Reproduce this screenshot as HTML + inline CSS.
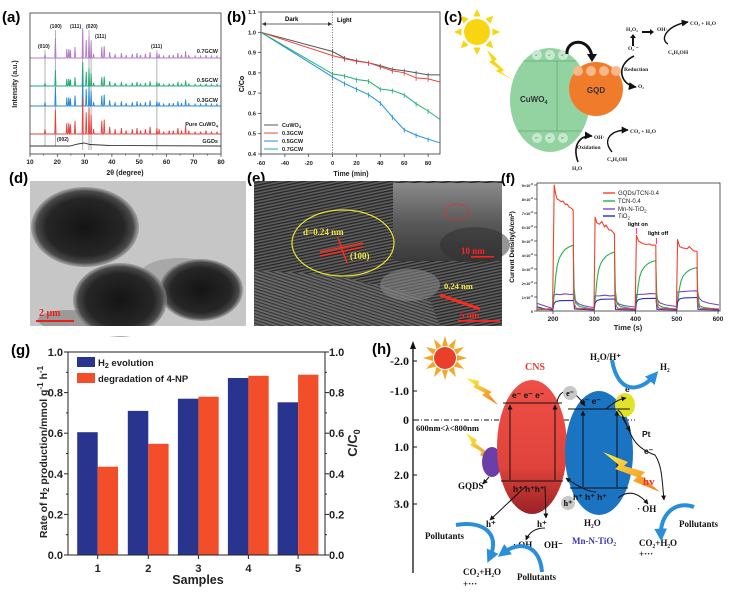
<!DOCTYPE html>
<html><head><meta charset="utf-8">
<style>
html,body{margin:0;padding:0;background:#fff;}
svg{display:block;}
text{font-family:"Liberation Sans",sans-serif;}
.sf{font-family:"Liberation Serif",serif;}
</style></head><body>
<svg width="737" height="595" viewBox="0 0 737 595" xmlns="http://www.w3.org/2000/svg" xmlns:xlink="http://www.w3.org/1999/xlink">
<defs>
<path id="xrd" vector-effect="non-scaling-stroke" fill="none" stroke-width="0.9" d="M30,0 L44.4,0 L45,-4 L45.6,0 L54.8,0 L55.4,-20 L56,0 L66.2,0 L66.8,-9 L67.4,0 L68.2,0 L68.8,-9 L69.4,0 L69.8,0 L70.4,-8 L71,0 L74.4,0 L75,-11 L75.6,0 L82.1,0 L82.7,-30 L83.3,0 L85.6,0 L86.2,-18 L86.8,0 L88.4,0 L89,-22 L89.6,0 L90.5,0 L91.1,-16 L91.7,0 L93,0 L93.6,-4 L94.2,0 L101.2,0 L101.8,-11 L102.4,0 L103.6,0 L104.2,-12 L104.8,0 L109.1,0 L109.7,-6 L110.3,0 L114.5,0 L115.1,-4 L115.7,0 L120.8,0 L121.4,-5 L122,0 L125.5,0 L126.1,-3 L126.7,0 L131.7,0 L132.3,-4 L132.9,0 L136.4,0 L137,-5 L137.6,0 L139.9,0 L140.5,-3 L141.1,0 L144.8,0 L145.4,-4 L146,0 L149.5,0 L150.1,-6 L150.7,0 L156.3,0 L156.9,-5 L157.5,0 L158.5,0 L159.1,-4 L159.7,0 L163.1,0 L163.7,-2 L164.3,0 L168.6,0 L169.2,-3 L169.8,0 L172.7,0 L173.3,-3 L173.9,0 L177.3,0 L177.9,-5 L178.5,0 L180.9,0 L181.5,-3 L182.1,0 L185,0 L185.6,-7 L186.2,0 L188.2,0 L188.8,-3 L189.4,0 L194.5,0 L195.1,-2 L195.7,0 L200,0 L200.6,-2 L201.2,0 L205.4,0 L206,-3 L206.6,0 L210.9,0 L211.5,-2 L212.1,0 L216.4,0 L217,-2 L217.6,0 L221,0"/>
<radialGradient id="pd" cx="50%" cy="50%" r="50%">
<stop offset="0" stop-color="#141414"/><stop offset="0.72" stop-color="#262626"/><stop offset="0.9" stop-color="#4a4a4a"/><stop offset="1" stop-color="#888" stop-opacity="0.6"/>
</radialGradient>
<pattern id="lat" width="3" height="3" patternUnits="userSpaceOnUse" patternTransform="rotate(-12)">
<rect width="3" height="3" fill="#5e5e5e"/><rect width="3" height="1.3" fill="#262626"/>
</pattern>
<pattern id="lat2" width="3" height="3" patternUnits="userSpaceOnUse" patternTransform="rotate(18)">
<rect width="3" height="3" fill="#6a6a6a"/><rect width="3" height="1.2" fill="#353535"/>
</pattern>
<linearGradient id="ins" x1="0" y1="0" x2="0" y2="1">
<stop offset="0" stop-color="#8a8a8a"/><stop offset="0.5" stop-color="#5a5a5a"/><stop offset="1" stop-color="#3a3a3a"/>
</linearGradient>
<linearGradient id="cns" x1="0" y1="0" x2="0" y2="1">
<stop offset="0" stop-color="#ee5048"/><stop offset="0.65" stop-color="#e0433b"/><stop offset="1" stop-color="#9a2226"/>
</linearGradient>
<linearGradient id="bolt" x1="0" y1="0" x2="1" y2="1">
<stop offset="0" stop-color="#fff040"/><stop offset="1" stop-color="#f07a20"/>
</linearGradient>
<marker id="ah" viewBox="0 0 10 10" refX="9" refY="5" markerWidth="5" markerHeight="5" orient="auto"><path d="M0,0 L10,5 L0,10 z" fill="#111"/></marker>
<marker id="ahb" viewBox="0 0 10 10" refX="5" refY="5" markerWidth="3.2" markerHeight="3.2" orient="auto"><path d="M0,0 L10,5 L0,10 z" fill="#2a8fd8"/></marker>
</defs>

<!-- ========== (a) ========== -->
<text x="2" y="22" font-size="15" font-weight="bold">(a)</text>
<g stroke="#aaa" stroke-width="0.9">
<line x1="45" y1="50" x2="45" y2="146"/>
<line x1="55.4" y1="30" x2="55.4" y2="146"/>
<line x1="82.7" y1="30" x2="82.7" y2="150"/>
<line x1="89" y1="30" x2="89" y2="150"/>
<line x1="91.1" y1="40" x2="91.1" y2="150"/>
<line x1="156.9" y1="50" x2="156.9" y2="150"/>
</g>
<use xlink:href="#xrd" transform="translate(0,58)" stroke="#b47ac8"/>
<use xlink:href="#xrd" transform="translate(0,86) scale(1,0.8)" stroke="#22aa70"/>
<use xlink:href="#xrd" transform="translate(0,106) scale(1,0.95)" stroke="#2a88d8"/>
<use xlink:href="#xrd" transform="translate(0,134) scale(1,1.2)" stroke="#e8403a"/>
<path d="M30,146 L70,146 L78,144 L84,143 L90,144.5 L110,145.5 L221,146" fill="none" stroke="#333" stroke-width="0.9"/>
<rect x="30" y="13" width="191" height="141" fill="none" stroke="#333" stroke-width="0.8"/>
<g stroke="#333" stroke-width="0.7">
<line x1="30" y1="154" x2="30" y2="157"/><line x1="57.3" y1="154" x2="57.3" y2="157"/><line x1="84.6" y1="154" x2="84.6" y2="157"/><line x1="111.9" y1="154" x2="111.9" y2="157"/><line x1="139.2" y1="154" x2="139.2" y2="157"/><line x1="166.5" y1="154" x2="166.5" y2="157"/><line x1="193.7" y1="154" x2="193.7" y2="157"/><line x1="221" y1="154" x2="221" y2="157"/>
<line x1="43.6" y1="154" x2="43.6" y2="155.5"/><line x1="70.9" y1="154" x2="70.9" y2="155.5"/><line x1="98.2" y1="154" x2="98.2" y2="155.5"/><line x1="125.5" y1="154" x2="125.5" y2="155.5"/><line x1="152.8" y1="154" x2="152.8" y2="155.5"/><line x1="180.1" y1="154" x2="180.1" y2="155.5"/><line x1="207.4" y1="154" x2="207.4" y2="155.5"/>
</g>
<g font-size="6.5" font-weight="bold" text-anchor="middle" fill="#222">
<text x="30" y="164">10</text><text x="57.3" y="164">20</text><text x="84.6" y="164">30</text><text x="111.9" y="164">40</text><text x="139.2" y="164">50</text><text x="166.5" y="164">60</text><text x="193.7" y="164">70</text><text x="221" y="164">80</text>
<text x="125" y="175" font-size="7">2θ (degree)</text>
</g>
<text transform="translate(17,84) rotate(-90)" font-size="7" font-weight="bold" text-anchor="middle" fill="#222">Intensity (a.u.)</text>
<g font-size="5" font-weight="bold" fill="#222">
<text x="38" y="48">(010)</text><text x="50" y="28">(100)</text><text x="70" y="28">(111)</text><text x="86" y="28">(020)</text><text x="95" y="38">(111)</text><text x="151" y="48">(111)</text><text x="57" y="141">(002)</text>
</g>
<g font-size="5.5" font-weight="bold" fill="#222" text-anchor="end">
<text x="218" y="53">0.7GCW</text><text x="218" y="82">0.5GCW</text><text x="218" y="102">0.3GCW</text><text x="218" y="126">Pure CuWO<tspan font-size="4" dy="1.5">4</tspan></text><text x="218" y="143">GGDs</text>
</g>

<!-- ========== (b) ========== -->
<text x="227" y="22" font-size="15" font-weight="bold">(b)</text>
<rect x="261" y="12" width="179" height="142" fill="none" stroke="#333" stroke-width="0.8"/>
<line x1="332.6" y1="12" x2="332.6" y2="154" stroke="#333" stroke-width="0.7" stroke-dasharray="1,1.5"/>
<line x1="262" y1="24" x2="332" y2="24" stroke="#333" stroke-width="0.7"/>
<path d="M262,24 l4,-2 l0,4 z M332,24 l-4,-2 l0,4 z" fill="#333"/>
<text x="285" y="21" font-size="6" font-weight="bold">Dark</text>
<text x="337" y="22" font-size="6" font-weight="bold">Light</text>
<g stroke="#333" stroke-width="0.7">
<line x1="258" y1="12" x2="261" y2="12"/><line x1="258" y1="32.3" x2="261" y2="32.3"/><line x1="258" y1="52.6" x2="261" y2="52.6"/><line x1="258" y1="72.9" x2="261" y2="72.9"/><line x1="258" y1="93.1" x2="261" y2="93.1"/><line x1="258" y1="113.4" x2="261" y2="113.4"/><line x1="258" y1="133.7" x2="261" y2="133.7"/><line x1="258" y1="154" x2="261" y2="154"/>
<line x1="261" y1="154" x2="261" y2="157"/><line x1="284.9" y1="154" x2="284.9" y2="157"/><line x1="308.7" y1="154" x2="308.7" y2="157"/><line x1="332.6" y1="154" x2="332.6" y2="157"/><line x1="356.5" y1="154" x2="356.5" y2="157"/><line x1="380.3" y1="154" x2="380.3" y2="157"/><line x1="404.2" y1="154" x2="404.2" y2="157"/><line x1="428.1" y1="154" x2="428.1" y2="157"/>
</g>
<g font-size="5.8" font-weight="bold" text-anchor="end" fill="#222">
<text x="256" y="14">1.1</text><text x="256" y="34.3">1.0</text><text x="256" y="54.6">0.9</text><text x="256" y="74.9">0.8</text><text x="256" y="95.1">0.7</text><text x="256" y="115.4">0.6</text><text x="256" y="135.7">0.5</text><text x="256" y="156">0.4</text>
</g>
<g font-size="5.8" font-weight="bold" text-anchor="middle" fill="#222">
<text x="261" y="165">-60</text><text x="284.9" y="165">-40</text><text x="308.7" y="165">-20</text><text x="332.6" y="165">0</text><text x="356.5" y="165">20</text><text x="380.3" y="165">40</text><text x="404.2" y="165">60</text><text x="428.1" y="165">80</text>
<text x="351" y="176" font-size="7">Time (min)</text>
</g>
<text transform="translate(244,84) rotate(-90)" font-size="7" font-weight="bold" text-anchor="middle">C/Co</text>
<g fill="none" stroke-width="1">
<polyline stroke="#555" points="261,32.3 332.6,51.5 344.5,58 356.5,60.7 368.4,62.7 380.3,65.7 392.3,69.2 404.2,70.8 416.1,72.8 428.1,74.9 440,74.9"/>
<polyline stroke="#e8473f" points="261,32.3 332.6,55.6 344.5,58.6 356.5,61.3 368.4,62.7 380.3,66.8 392.3,70.8 404.2,72.8 416.1,77.9 428.1,78.9 440,82"/>
<polyline stroke="#1f8fe0" points="261,32.3 332.6,76.9 344.5,83.4 356.5,89.1 368.4,94.6 380.3,102.9 392.3,116.9 404.2,129.7 416.1,135.1 428.1,139.2 440,142.8"/>
<polyline stroke="#22b070" points="261,32.3 332.6,73.9 344.5,75.9 356.5,79.5 368.4,81 380.3,89.1 392.3,90.5 404.2,94.8 416.1,103.7 428.1,111 440,119.5"/>
</g>
<g stroke-width="0.8">
<path stroke="#555" d="M332.6,49v5M344.5,56v5M356.5,58.7v5M368.4,60.7v5M380.3,63.7v5M392.3,67.2v5M404.2,68.8v5M416.1,70.8v5M428.1,72.9v5"/>
<path stroke="#e8473f" d="M332.6,53.6v5M344.5,56.6v5M356.5,59.3v5M368.4,60.7v5M380.3,64.8v5M392.3,68.8v5M404.2,70.8v5M416.1,75.9v5M428.1,76.9v5"/>
<path stroke="#1f8fe0" d="M332.6,74.9v5M344.5,81.4v5M356.5,87.1v5M368.4,92.6v5M380.3,100.9v5M392.3,114.9v5M404.2,127.7v5M416.1,133.1v5M428.1,137.2v5"/>
<path stroke="#22b070" d="M332.6,71.9v5M344.5,73.9v5M356.5,77.5v5M368.4,79v5M380.3,87.1v5M392.3,88.5v5M404.2,92.8v5M416.1,101.7v5M428.1,109v5"/>
</g>
<g stroke-width="1">
<line x1="264" y1="125" x2="278" y2="125" stroke="#555"/><line x1="264" y1="133" x2="278" y2="133" stroke="#e8473f"/><line x1="264" y1="141" x2="278" y2="141" stroke="#1f8fe0"/><line x1="264" y1="149" x2="278" y2="149" stroke="#22b070"/>
</g>
<g font-size="5.5" font-weight="bold" fill="#222">
<text x="282" y="127">CuWO<tspan font-size="4" dy="1">4</tspan></text><text x="282" y="135">0.3GCW</text><text x="282" y="143">0.5GCW</text><text x="282" y="151">0.7GCW</text>
</g>

<!-- ========== (c) ========== -->
<text x="444" y="22" font-size="15" font-weight="bold">(c)</text>
<g fill="#f9d511" transform="translate(477,32)">
<circle r="13"/>
<polygon points="15.5,-3.6 23,0 15.5,3.6"/>
<polygon points="15.5,-3.6 23,0 15.5,3.6" transform="rotate(45)"/>
<polygon points="15.5,-3.6 23,0 15.5,3.6" transform="rotate(90)"/>
<polygon points="15.5,-3.6 23,0 15.5,3.6" transform="rotate(135)"/>
<polygon points="15.5,-3.6 23,0 15.5,3.6" transform="rotate(180)"/>
<polygon points="15.5,-3.6 23,0 15.5,3.6" transform="rotate(225)"/>
<polygon points="15.5,-3.6 23,0 15.5,3.6" transform="rotate(270)"/>
<polygon points="15.5,-3.6 23,0 15.5,3.6" transform="rotate(315)"/>
</g>
<polygon fill="#f9d511" points="487,50 497,59 494,61 504,70 501,72 513,80 496,71 499,69 489,62 492,60"/>
<ellipse cx="550" cy="100" rx="40" ry="52" fill="#93d3a2"/>
<g stroke="#5fae72" stroke-width="0.8">
<line x1="523.5" y1="61" x2="576.5" y2="61"/><line x1="518" y1="131" x2="582" y2="131"/><line x1="557" y1="61" x2="557" y2="131"/>
</g>
<g fill="#c6ead0"><circle cx="537" cy="55" r="5"/><circle cx="550" cy="55" r="5"/><circle cx="563" cy="55" r="5"/><circle cx="537" cy="138" r="5"/><circle cx="550" cy="138" r="5"/><circle cx="563" cy="138" r="5"/></g>
<g font-size="3" fill="#444" text-anchor="middle"><text x="537" y="56">e⁻</text><text x="550" y="56">e⁻</text><text x="563" y="56">e⁻</text><text x="537" y="139">h⁺</text><text x="550" y="139">h⁺</text><text x="563" y="139">h⁺</text></g>
<text x="520" y="102" font-size="8" font-weight="bold" fill="#333">CuWO<tspan font-size="5.5" dy="2">4</tspan></text>
<circle cx="596" cy="89" r="27" fill="#f07b2a"/>
<g fill="#f8b88a"><circle cx="578" cy="71" r="5"/><circle cx="591" cy="71" r="5"/><circle cx="604" cy="71" r="5"/><circle cx="616" cy="71" r="5"/></g>
<text x="596" y="93" font-size="8" font-weight="bold" fill="#333" text-anchor="middle">GQD</text>
<path d="M567,54 C566,40 588,36 592,56" fill="none" stroke="#111" stroke-width="3"/>
<path d="M587,54 L597,54 L592,62 z" fill="#111"/>
<g class="sf" font-size="5.5" font-weight="bold" fill="#222">
<text x="626" y="31" class="sf">H₂O₂</text>
<text x="657" y="31" class="sf">OH·</text>
<text x="690" y="25" class="sf">CO₂ + H₂O</text>
<text x="668" y="54" class="sf">C₆H₅OH</text>
<text x="628" y="50" class="sf">O₂˙⁻</text>
<text x="624" y="71" class="sf">Reduction</text>
<text x="638" y="88" class="sf">O₂</text>
<text x="594" y="139" class="sf">OH·</text>
<text x="577" y="149" class="sf">Oxidation</text>
<text x="572" y="170" class="sf">H₂O</text>
<text x="630" y="133" class="sf">CO₂ + H₂O</text>
<text x="607" y="161" class="sf">C₆H₅OH</text>
</g>
<path d="M642,31 h8 v-2 l4,3 l-4,3 v-2 h-8 z" fill="#111"/>
<path d="M632,46 v-8 h-2 l3,-4 l3,4 h-2 v8 z" fill="#111"/>
<path d="M668,44 C660,40 665,26 688,22" fill="none" stroke="#111" stroke-width="1.4" marker-end="url(#ah)"/>
<path d="M634,56 C615,65 620,85 636,87" fill="none" stroke="#111" stroke-width="1.6" marker-end="url(#ah)"/>
<path d="M578,162 C572,145 580,135 592,136" fill="none" stroke="#111" stroke-width="1.6" marker-end="url(#ah)"/>
<path d="M612,152 C602,140 610,130 628,130" fill="none" stroke="#111" stroke-width="1.4" marker-end="url(#ah)"/>

<!-- ========== (d) ========== -->
<text x="9" y="183" font-size="15" font-weight="bold">(d)</text>
<rect x="30" y="181" width="216" height="145" fill="#c6c6c6"/>
<ellipse cx="180" cy="272" rx="38" ry="14" fill="#a8a8a8"/>
<ellipse cx="68" cy="320" rx="30" ry="10" fill="#9a9a9a"/>
<ellipse cx="85" cy="227" rx="54" ry="40" fill="url(#pd)"/>
<ellipse cx="201" cy="290" rx="42" ry="31" fill="url(#pd)"/>
<ellipse cx="120" cy="300" rx="47" ry="37" fill="url(#pd)"/>
<rect x="30" y="326" width="216" height="10" fill="#fff"/>
<text x="39" y="316" font-size="10" font-weight="bold" fill="#e8201a" class="sf">2 μm</text>
<rect x="36" y="320" width="38" height="2" fill="#e8201a"/>

<!-- ========== (e) ========== -->
<text x="247" y="183" font-size="15" font-weight="bold">(e)</text>
<rect x="254" y="181" width="248" height="145" fill="url(#lat)"/>
<path d="M254,270 L330,275 L400,290 L430,300 L440,326 L254,326 z" fill="url(#lat2)"/>
<ellipse cx="410" cy="285" rx="30" ry="16" fill="#8a8a8a" opacity="0.55"/>
<rect x="393" y="183" width="109" height="78" fill="url(#ins)"/>
<ellipse cx="475" cy="245" rx="35" ry="18" fill="#2e2e2e" opacity="0.5"/>
<ellipse cx="457" cy="212" rx="12" ry="8" fill="none" stroke="#ff2020" stroke-width="1" stroke-dasharray="2,1.5"/>
<text x="461" y="254" font-size="9" font-weight="bold" fill="#ff2020" class="sf">10 nm</text>
<rect x="471" y="256" width="23" height="1.6" fill="#ff2020"/>
<ellipse cx="343" cy="243" rx="51" ry="33" fill="none" stroke="#e8e030" stroke-width="1.2"/>
<text x="303" y="235" font-size="9" font-weight="bold" fill="#f0e840" class="sf">d=0.24 nm</text>
<g stroke="#ff2a1a" stroke-width="1.5"><line x1="320" y1="252" x2="363" y2="243"/><line x1="320" y1="256" x2="363" y2="247"/><line x1="338" y1="238" x2="347" y2="263"/></g>
<text x="350" y="259" font-size="9" font-weight="bold" fill="#f0e840" class="sf">(100)</text>
<text x="444" y="289" font-size="8.5" font-weight="bold" fill="#f0e840" class="sf">0.24 nm</text>
<line x1="440" y1="295" x2="480" y2="309" stroke="#ff2a1a" stroke-width="3"/>
<text x="460" y="318" font-size="9" font-weight="bold" fill="#ff2020" class="sf">5 nm</text>
<rect x="458" y="320" width="42" height="1.8" fill="#ff2020"/>

<!-- ========== (f) ========== -->
<text x="501" y="183" font-size="14" font-weight="bold">(f)</text>
<rect x="537" y="183" width="183" height="128" fill="none" stroke="#333" stroke-width="0.8"/>
<g stroke="#333" stroke-width="0.7">
<line x1="534" y1="311" x2="537" y2="311"/><line x1="534" y1="297" x2="537" y2="297"/><line x1="534" y1="283" x2="537" y2="283"/><line x1="534" y1="269" x2="537" y2="269"/><line x1="534" y1="255" x2="537" y2="255"/><line x1="534" y1="241" x2="537" y2="241"/><line x1="534" y1="227" x2="537" y2="227"/><line x1="534" y1="213" x2="537" y2="213"/><line x1="534" y1="199" x2="537" y2="199"/><line x1="534" y1="185" x2="537" y2="185"/>
<line x1="553" y1="311" x2="553" y2="314"/><line x1="594.3" y1="311" x2="594.3" y2="314"/><line x1="635.6" y1="311" x2="635.6" y2="314"/><line x1="676.8" y1="311" x2="676.8" y2="314"/><line x1="718" y1="311" x2="718" y2="314"/>
</g>
<g font-size="3.8" font-weight="bold" text-anchor="end" fill="#222">
<text x="533" y="313">0</text>
<text x="533" y="299">1×10<tspan font-size="3" dy="-2">-6</tspan></text>
<text x="533" y="285">2×10<tspan font-size="3" dy="-2">-6</tspan></text>
<text x="533" y="271">3×10<tspan font-size="3" dy="-2">-6</tspan></text>
<text x="533" y="257">4×10<tspan font-size="3" dy="-2">-6</tspan></text>
<text x="533" y="243">5×10<tspan font-size="3" dy="-2">-6</tspan></text>
<text x="533" y="229">6×10<tspan font-size="3" dy="-2">-6</tspan></text>
<text x="533" y="215">7×10<tspan font-size="3" dy="-2">-6</tspan></text>
<text x="533" y="201">8×10<tspan font-size="3" dy="-2">-6</tspan></text>
<text x="533" y="187">9×10<tspan font-size="3" dy="-2">-6</tspan></text>
</g>
<g font-size="6.5" font-weight="bold" text-anchor="middle" fill="#222">
<text x="553" y="321">200</text><text x="594.3" y="321">300</text><text x="635.6" y="321">400</text><text x="676.8" y="321">500</text><text x="718" y="321">600</text>
<text x="628" y="330" font-size="7.5">Time (s)</text>
</g>
<text transform="translate(514,247) rotate(-90)" font-size="6.5" font-weight="bold" text-anchor="middle">Current Density(A/cm<tspan font-size="4.5" dy="-2">2</tspan><tspan dy="2">)</tspan></text>
<g fill="none" stroke-width="1.1" stroke-linejoin="round">
<polyline stroke="#7b44c4" points="537,303.3 545,306 552.6,308.5 553.6,295.6 556,294.2 560,294.7 565,293.8 570,294.5 573.7,294.2 575,300 578,303.5 583,305.5 590,307 594,307.5 594.8,296 600,295.8 605,295.2 610,295.9 614.9,295.6 616,301 619,304 624,305.5 630,306.5 635.5,307 636.2,294.5 645,294.2 650,293.6 656.2,293.8 657.5,300 660,303 666,305 676.5,306.5 677.2,292 683,291.6 690,291 697.4,290.8 699,298 702,301 708,303 719,305"/>
<polyline stroke="#22b24e" points="537,309.6 553,309.6 554.2,294.5 555.5,278.1 557.1,266.2 559.2,258.4 562.1,253.1 565.4,249.1 569.5,246.6 573.2,245.2 574.1,287.9 575.7,303.2 579.8,306.4 594.3,309.6 595.5,296.3 596.8,281.6 598.4,271 600.5,264 603.4,259.2 606.7,255.7 610.8,253.3 614.5,252.2 615.4,290.4 617,304 621.1,306.6 635.6,309.6 636.8,298.4 638.1,285.8 639.7,276.7 641.8,270.7 644.7,266.6 648,263.6 652.1,261.6 655.8,260.6 656.7,293.4 658.3,305 662.4,307 676.8,309.6 678,300.1 679.3,289.3 680.9,281.5 683,276.3 685.9,272.8 689.2,270.2 693.3,268.5 697,267.6 697.9,295.8 699.5,305.8 703.6,307.4 719,309.6"/>
<polyline stroke="#2430c0" points="537,306.8 545,309 552.6,310 554,303.5 556,301.5 560,300.7 573.7,300.4 574.5,309 594,310 595,303 597,300.5 601,299.3 614.9,299 615.6,309.5 635.6,310 636.3,302.5 638.5,299.5 643,298.6 656.2,298.3 657,309.5 676.8,310 677.5,302 679.5,299 684,297.9 697.4,297.5 698,309.5 719,310"/>
<polyline stroke="#f2402a" points="537,308.9 552.6,308.9 554.2,185 555.5,193.4 557.1,199 559,200 561.3,201.8 563,201 565.4,204.6 567,204 569.5,207.4 571,208 573.2,210.2 573.7,302.6 576.1,308.2 594,308.9 595.1,217.2 596.8,222.8 599.3,224.2 601.8,221.5 604.6,227 606,225 608.8,229.8 611,230 614.5,234 614.9,302.6 617.4,308.2 635.2,308.9 636.4,235.4 638.5,241 641.8,243.1 645.9,244.5 649,244 652.1,245.2 655.8,245.2 656.2,302.6 658.7,308.2 676.4,308.9 677.6,239.6 679.7,246.6 683,248 687.2,248.7 689.2,246.5 693.4,250.8 697.1,251.5 697.4,302.6 699.9,308.2 719,308.9"/>
</g>
<g stroke-width="1.4">
<line x1="603" y1="193" x2="615" y2="193" stroke="#f2402a"/><line x1="603" y1="201" x2="615" y2="201" stroke="#22b24e"/><line x1="603" y1="209" x2="615" y2="209" stroke="#7b44c4"/><line x1="603" y1="216" x2="615" y2="216" stroke="#2430c0"/>
</g>
<g font-size="6" fill="#222">
<text x="618" y="195">GQDs/TCN-0.4</text><text x="618" y="203">TCN-0.4</text><text x="618" y="211">Mn-N-TiO<tspan font-size="4.5" dy="1.5">2</tspan></text><text x="618" y="218">TiO<tspan font-size="4.5" dy="1.5">2</tspan></text>
</g>
<text x="628" y="226" font-size="5.5" font-weight="bold">light on</text>
<text x="648" y="235" font-size="5.5" font-weight="bold">light off</text>
<g stroke="#ff3aa0" stroke-width="1.2"><line x1="636.5" y1="228" x2="636.5" y2="234"/><line x1="656.5" y1="238" x2="656.5" y2="244"/></g>

<!-- ========== (g) ========== -->
<text x="11" y="355" font-size="15" font-weight="bold">(g)</text>
<g fill="#29348f">
<rect x="77.2" y="432.2" width="20.5" height="122.8"/>
<rect x="127.8" y="410.9" width="20.5" height="144.1"/>
<rect x="177.9" y="398.7" width="20.5" height="156.3"/>
<rect x="227.9" y="378" width="20.5" height="177"/>
<rect x="277.6" y="402.3" width="20.5" height="152.7"/>
</g>
<g fill="#f24e2a">
<rect x="97.7" y="466.7" width="20.3" height="88.3"/>
<rect x="148.3" y="443.8" width="20.3" height="111.2"/>
<rect x="198.4" y="396.7" width="20.3" height="158.3"/>
<rect x="248.4" y="375.8" width="20.3" height="179.2"/>
<rect x="298.1" y="374.7" width="20.3" height="180.3"/>
</g>
<rect x="68" y="352" width="257" height="203" fill="none" stroke="#222" stroke-width="1"/>
<g stroke="#222" stroke-width="1">
<line x1="64" y1="352" x2="68" y2="352"/><line x1="64" y1="392.6" x2="68" y2="392.6"/><line x1="64" y1="433.2" x2="68" y2="433.2"/><line x1="64" y1="473.8" x2="68" y2="473.8"/><line x1="64" y1="514.4" x2="68" y2="514.4"/><line x1="64" y1="555" x2="68" y2="555"/>
<line x1="66" y1="372.3" x2="68" y2="372.3"/><line x1="66" y1="412.9" x2="68" y2="412.9"/><line x1="66" y1="453.5" x2="68" y2="453.5"/><line x1="66" y1="494.1" x2="68" y2="494.1"/><line x1="66" y1="534.7" x2="68" y2="534.7"/>
<line x1="325" y1="352" x2="329" y2="352"/><line x1="325" y1="392.6" x2="329" y2="392.6"/><line x1="325" y1="433.2" x2="329" y2="433.2"/><line x1="325" y1="473.8" x2="329" y2="473.8"/><line x1="325" y1="514.4" x2="329" y2="514.4"/><line x1="325" y1="555" x2="329" y2="555"/>
<line x1="325" y1="372.3" x2="327" y2="372.3"/><line x1="325" y1="412.9" x2="327" y2="412.9"/><line x1="325" y1="453.5" x2="327" y2="453.5"/><line x1="325" y1="494.1" x2="327" y2="494.1"/><line x1="325" y1="534.7" x2="327" y2="534.7"/>
<line x1="97.7" y1="555" x2="97.7" y2="559"/><line x1="148.3" y1="555" x2="148.3" y2="559"/><line x1="198.4" y1="555" x2="198.4" y2="559"/><line x1="248.4" y1="555" x2="248.4" y2="559"/><line x1="298.1" y1="555" x2="298.1" y2="559"/>
</g>
<g font-size="11" font-weight="bold" text-anchor="end" fill="#222">
<text x="63" y="356">1.0</text><text x="63" y="396.6">0.8</text><text x="63" y="437.2">0.6</text><text x="63" y="477.8">0.4</text><text x="63" y="518.4">0.2</text><text x="63" y="559">0.0</text>
</g>
<g font-size="11" font-weight="bold" text-anchor="start" fill="#222">
<text x="329" y="356">1.0</text><text x="329" y="396.6">0.8</text><text x="329" y="437.2">0.6</text><text x="329" y="477.8">0.4</text><text x="329" y="518.4">0.2</text><text x="329" y="559">0.0</text>
</g>
<g font-size="11" font-weight="bold" text-anchor="middle" fill="#222">
<text x="97.7" y="572">1</text><text x="148.3" y="572">2</text><text x="198.4" y="572">3</text><text x="248.4" y="572">4</text><text x="298.1" y="572">5</text>
<text x="198" y="584" font-size="12.5">Samples</text>
</g>
<text transform="translate(47,452) rotate(-90)" font-size="10.5" font-weight="bold" text-anchor="middle" fill="#222">Rate of H<tspan font-size="8" dy="2">2</tspan><tspan dy="-2"> production/mmol g</tspan><tspan font-size="8" dy="-4">-1</tspan><tspan dy="4"> h</tspan><tspan font-size="8" dy="-4">-1</tspan></text>
<text transform="translate(357,443) rotate(-90)" font-size="13" font-weight="bold" text-anchor="middle" fill="#222">C/C<tspan font-size="9" dy="3">0</tspan></text>
<rect x="77" y="357" width="18" height="10" fill="#29348f"/>
<rect x="77" y="373" width="18" height="10" fill="#f24e2a"/>
<text x="98" y="366" font-size="9.5" font-weight="bold" fill="#222">H<tspan font-size="7" dy="2">2</tspan><tspan dy="-2"> evolution</tspan></text>
<text x="98" y="382" font-size="9.5" font-weight="bold" fill="#222">degradation of 4-NP</text>

<!-- ========== (h) ========== -->
<text x="372" y="354" font-size="15" font-weight="bold">(h)</text>
<line x1="413" y1="573" x2="413" y2="347" stroke="#111" stroke-width="1.3"/>
<path d="M413,341 l-3,8 l6,0 z" fill="#111"/>
<g stroke="#111" stroke-width="1"><line x1="413" y1="361" x2="417" y2="361"/><line x1="413" y1="391" x2="417" y2="391"/><line x1="413" y1="420" x2="417" y2="420"/><line x1="413" y1="447" x2="417" y2="447"/><line x1="413" y1="475" x2="417" y2="475"/><line x1="413" y1="504" x2="417" y2="504"/></g>
<g class="sf" font-size="12" font-weight="bold" text-anchor="end" fill="#111">
<text x="409" y="365" class="sf">-2.0</text><text x="409" y="395" class="sf">-1.0</text><text x="409" y="424" class="sf">0</text><text x="409" y="451" class="sf">1.0</text><text x="409" y="479" class="sf">2.0</text><text x="409" y="508" class="sf">3.0</text>
</g>
<line x1="414" y1="420" x2="635" y2="420" stroke="#111" stroke-width="0.9" stroke-dasharray="5,2,1,2"/>
<text x="416" y="431" class="sf" font-size="8.5" font-weight="bold" fill="#111">600nm&lt;λ&lt;800nm</text>
<g transform="translate(445,358)">
<g fill="#f5a623">
<polygon points="12,-3 22,0 12,3"/><polygon points="12,-3 22,0 12,3" transform="rotate(30)"/><polygon points="12,-3 22,0 12,3" transform="rotate(60)"/><polygon points="12,-3 22,0 12,3" transform="rotate(90)"/><polygon points="12,-3 22,0 12,3" transform="rotate(120)"/><polygon points="12,-3 22,0 12,3" transform="rotate(150)"/><polygon points="12,-3 22,0 12,3" transform="rotate(180)"/><polygon points="12,-3 22,0 12,3" transform="rotate(210)"/><polygon points="12,-3 22,0 12,3" transform="rotate(240)"/><polygon points="12,-3 22,0 12,3" transform="rotate(270)"/><polygon points="12,-3 22,0 12,3" transform="rotate(300)"/><polygon points="12,-3 22,0 12,3" transform="rotate(330)"/>
</g>
<circle r="11" fill="#e8402a"/>
</g>
<polygon fill="url(#bolt)" points="466,378 479,381 478,385 492,392 489,394 498,405 482,395 485,393 473,387 475,385"/>
<polygon fill="url(#bolt)" points="466,433 477,440 475,443 487,452 484,454 495,463 480,455 482,452 470,445 472,443"/>
<polygon fill="url(#bolt)" points="504,452 516,450 515,455 530,460 527,463 538,470 522,466 524,463 510,460 512,457"/>
<ellipse cx="492" cy="462" rx="10" ry="15" fill="#6a40a8"/>
<ellipse cx="532" cy="447" rx="35" ry="67" fill="url(#cns)"/>
<ellipse cx="599" cy="453" rx="34" ry="62" fill="#1b74c2"/>
<ellipse cx="625" cy="405" rx="10" ry="12" fill="#e2e22a"/>
<text x="535" y="370" class="sf" font-size="10" font-weight="bold" fill="#e83a30" text-anchor="middle">CNS</text>
<g stroke="#111" stroke-width="1">
<line x1="503" y1="403" x2="562" y2="403"/><line x1="501" y1="481" x2="563" y2="481"/>
<line x1="568" y1="409" x2="630" y2="409"/><line x1="570" y1="488" x2="628" y2="488"/>
</g>
<g stroke="#111" stroke-width="1" marker-end="url(#ah)">
<line x1="510" y1="480" x2="510" y2="405"/><line x1="555" y1="480" x2="555" y2="405"/>
<line x1="583" y1="487" x2="583" y2="411"/><line x1="617" y1="487" x2="617" y2="411"/>
<path d="M557,402 C560,388 572,386 585,406" fill="none"/>
<path d="M606,409 C612,404 616,400 626,398" fill="none"/>
<path d="M596,492 C590,492 580,488 566,478" fill="none"/>
<line x1="526" y1="486" x2="490" y2="520"/><line x1="545" y1="486" x2="546" y2="518"/>
<path d="M545,528 C538,528 530,530 526,540" fill="none"/>
<path d="M618,410 C630,420 625,445 655,455 C662,465 662,480 664,500" fill="none"/>
<path d="M618,498 C628,490 638,492 648,504" fill="none"/>
<line x1="622" y1="417" x2="630" y2="431"/>
<line x1="489" y1="477" x2="483" y2="484"/>
</g>
<circle cx="570" cy="393" r="7" fill="#c8c8c8"/><text x="570" y="396" class="sf" font-size="8" font-weight="bold" text-anchor="middle">e⁻</text>
<circle cx="568" cy="503" r="7" fill="#c8c8c8"/><text x="568" y="506" class="sf" font-size="8" font-weight="bold" text-anchor="middle">h⁺</text>
<g font-size="8.5" font-weight="bold" fill="#111">
<text x="512" y="398">e⁻ e⁻ e⁻</text>
<text x="513" y="492">h⁺ h⁺h⁺</text>
<text x="580" y="404">e⁻ e⁻</text>
<text x="573" y="500">h⁺ h⁺ h⁺</text>
<text x="625" y="392">e⁻</text>
<text x="642" y="437">Pt</text>
<text x="644" y="454">e⁻</text>
</g>
<g class="sf" font-size="9" font-weight="bold" fill="#111">
<text x="458" y="489" class="sf">GQDS</text>
<text x="590" y="360" class="sf">H₂O/H⁺</text>
<text x="660" y="370" class="sf">H₂</text>
<text x="637" y="512" class="sf">· OH</text>
<text x="679" y="527" class="sf">Pollutants</text>
<text x="639" y="546" class="sf">CO₂+H₂O</text>
<text x="639" y="557" class="sf">+···</text>
<text x="584" y="526" class="sf">H₂O</text>
<text x="572" y="544" class="sf" fill="#3a3ab0">Mn-N-TiO₂</text>
<text x="486" y="527" class="sf">h⁺</text>
<text x="425" y="539" class="sf">Pollutants</text>
<text x="513" y="548" class="sf">· OH</text>
<text x="544" y="548" class="sf">OH⁻</text>
<text x="537" y="527" class="sf">h⁺</text>
<text x="463" y="575" class="sf">CO₂+H₂O</text>
<text x="463" y="587" class="sf">+···</text>
<text x="517" y="580" class="sf">Pollutants</text>
</g>
<polygon fill="url(#bolt)" points="603,452 628,462 624,466 645,472 641,476 660,492 633,481 637,477 615,469 619,465"/>
<text x="643" y="485" class="sf" font-size="11" font-weight="bold" fill="#e8302a">hv</text>
<g fill="none" stroke="#2a8fd8" stroke-width="4" marker-end="url(#ahb)">
<path d="M456,525 C485,520 500,535 490,557"/>
<path d="M542,572 C540,545 520,540 503,553"/>
<path d="M694,507 C675,500 660,515 661,535"/>
<path d="M612,360 C618,395 640,392 654,376"/>
</g>
</svg>
</body></html>
